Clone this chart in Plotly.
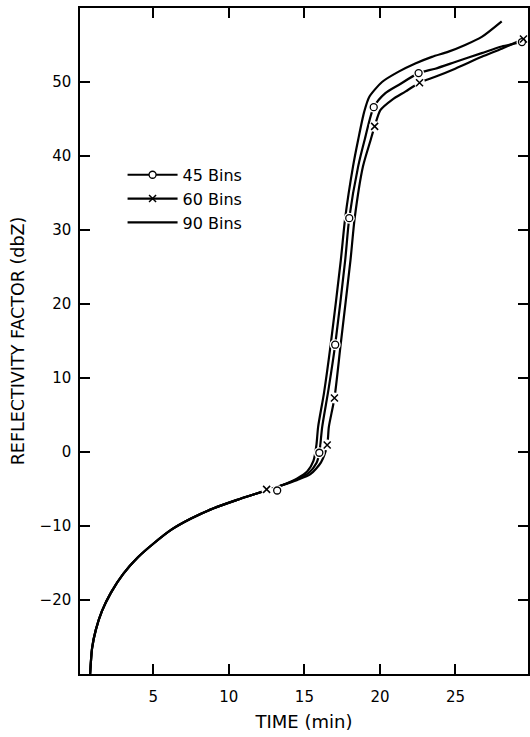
import plotly.graph_objects as go

# ---- data ----
common_x = [0.82, 0.95, 1.2, 1.6, 2.2, 3.0, 4.0, 5.0, 6.2, 7.5, 9.0, 10.5, 12.0, 13.52]
common_y = [-30.0, -26.5, -24.0, -21.5, -19.0, -16.5, -14.2, -12.4, -10.5, -9.0, -7.6, -6.5, -5.5, -4.5]

x45_upper = [14.5, 15.3, 15.8, 15.99, 16.18, 16.6, 17.04, 17.7, 17.97, 18.56, 18.99, 19.59, 20.36,
             21.24, 22.56, 23.66, 24.98, 26.74, 28.06, 28.94, 29.4]
y45_upper = [-3.7, -2.8, -1.5, -0.1, 3.4, 8.5, 14.5, 25.9, 31.6, 38.6, 42.2, 46.6, 48.5,
             49.6, 51.2, 51.8, 52.7, 53.9, 54.8, 55.2, 55.4]

x60_upper = [14.5, 15.4, 16.1, 16.51, 16.62, 16.99, 17.4, 18.05, 18.33, 18.88, 19.39, 19.65, 20.03,
             20.8, 21.68, 22.62, 23.66, 24.98, 26.74, 28.06, 29.5]
y60_upper = [-3.8, -3.0, -1.4, 0.95, 3.4, 7.3, 14.5, 25.9, 31.6, 38.6, 42.2, 44.0, 46.2,
             47.6, 48.7, 49.9, 50.7, 51.8, 53.4, 54.5, 55.8]

x90_upper = [14.5, 15.2, 15.6, 15.8, 15.91, 16.3, 16.74, 17.41, 17.7, 18.22, 18.56, 18.95, 19.3,
             20.14, 21.24, 22.34, 23.44, 24.54, 25.64, 26.74, 28.06]
y90_upper = [-3.6, -2.6, -1.2, 1.0, 3.4, 8.0, 14.5, 25.9, 31.6, 38.6, 42.2, 45.9, 48.0,
             50.0, 51.4, 52.5, 53.4, 54.1, 55.0, 56.1, 58.2]

# marker positions
m45_x = [13.2, 15.99, 17.04, 17.97, 19.59, 22.56, 29.4]
m45_y = [-5.2, -0.1, 14.5, 31.6, 46.6, 51.2, 55.4]
m60_x = [12.5, 16.51, 16.99, 19.65, 22.62, 29.5]
m60_y = [-5.05, 0.95, 7.3, 44.0, 49.9, 55.8]

series_names = ["45 Bins", "60 Bins", "90 Bins"]
x_ticks = [5, 10, 15, 20, 25]
y_ticks = [-20, -10, 0, 10, 20, 30, 40, 50]
y_ticklabels = ["\u221220", "\u221210", "0", "10", "20", "30", "40", "50"]

x45 = common_x + x45_upper
y45 = common_y + y45_upper
x60 = common_x + x60_upper
y60 = common_y + y60_upper
x90 = common_x + x90_upper
y90 = common_y + y90_upper

FONT = "DejaVu Sans"
LW = 2.2
fig = go.Figure()

line_style = dict(color="black", width=LW, shape="spline", smoothing=0.7)
for xs, ys, nm in [(x90, y90, series_names[2]), (x45, y45, series_names[0]), (x60, y60, series_names[1])]:
    fig.add_trace(go.Scatter(x=xs, y=ys, mode="lines", line=line_style, name=nm,
                             showlegend=False, hoverinfo="skip"))

# white masks that break the lines around markers
fig.add_trace(go.Scatter(x=m45_x + m60_x, y=m45_y + m60_y, mode="markers",
                         marker=dict(symbol="circle", size=11, color="white", line=dict(width=0)),
                         showlegend=False, hoverinfo="skip"))
# markers
fig.add_trace(go.Scatter(x=m45_x, y=m45_y, mode="markers", name=series_names[0],
                         marker=dict(symbol="circle", size=7, color="white",
                                     line=dict(color="black", width=1.3)),
                         showlegend=False))
fig.add_trace(go.Scatter(x=m60_x, y=m60_y, mode="markers", name=series_names[1],
                         marker=dict(symbol="x-thin", size=7, color="black",
                                     line=dict(color="black", width=1.5)),
                         showlegend=False))

# legend entries
fig.add_trace(go.Scatter(x=[None], y=[None], mode="lines+markers", name=series_names[0],
                         line=dict(color="black", width=LW),
                         marker=dict(symbol="circle", size=7, color="white",
                                     line=dict(color="black", width=1.3))))
fig.add_trace(go.Scatter(x=[None], y=[None], mode="lines+markers", name=series_names[1],
                         line=dict(color="black", width=LW),
                         marker=dict(symbol="x-thin", size=7, color="black",
                                     line=dict(color="black", width=1.5))))
fig.add_trace(go.Scatter(x=[None], y=[None], mode="lines", name=series_names[2],
                         line=dict(color="black", width=LW)))

axis_common = dict(showgrid=False, zeroline=False, showline=True, linecolor="black",
                   linewidth=1.5, ticks="inside", ticklen=10, tickwidth=1.5,
                   tickcolor="black", mirror="ticks",
                   tickfont=dict(family=FONT, size=15, color="black"))

fig.update_xaxes(range=[0.15, 29.8], tickvals=x_ticks, **axis_common,
                 title=dict(text="TIME (min)", font=dict(family=FONT, size=18, color="black"),
                            standoff=11),
                 ticklabelstandoff=8)
fig.update_yaxes(range=[-30, 60], tickvals=y_ticks, ticktext=y_ticklabels, **axis_common,
                 title=dict(text="REFLECTIVITY FACTOR (dbZ)",
                            font=dict(family=FONT, size=17.5, color="black"), standoff=10),
                 ticklabelstandoff=4)

fig.update_layout(
    width=530, height=737,
    margin=dict(l=80, r=0, t=8, b=63),
    paper_bgcolor="white", plot_bgcolor="white",
    font=dict(family=FONT, color="black"),
    legend=dict(x=0.095, y=0.775, xanchor="left", yanchor="top",
                font=dict(family=FONT, size=16, color="black"),
                bgcolor="rgba(0,0,0,0)", borderwidth=0, itemwidth=50),
    showlegend=True,
)

fig.write_html("out.html")
